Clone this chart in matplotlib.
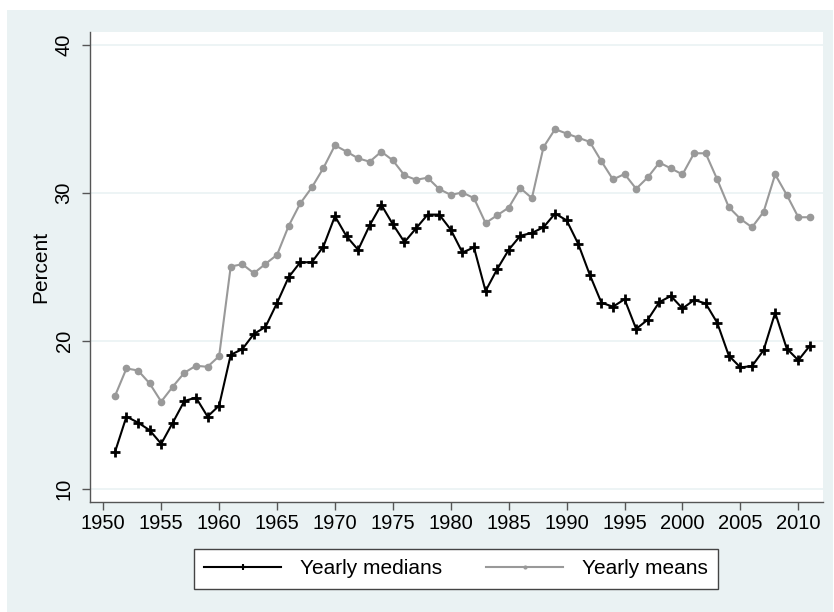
import numpy as np
import matplotlib
matplotlib.use('Agg')
import matplotlib.pyplot as plt
from matplotlib.patches import Rectangle
from matplotlib.lines import Line2D

plt.rcParams['font.family'] = ['Liberation Sans Narrow', 'Liberation Sans', 'DejaVu Sans']

years = np.arange(1951, 2012)

medians = [12.47, 14.89, 14.48, 13.97, 13.05, 14.48, 15.94, 16.17, 14.89, 15.63,
           19.06, 19.44, 20.47, 20.94, 22.56, 24.30, 25.31, 25.31, 26.37, 28.42,
           27.06, 26.15, 27.81, 29.19, 27.87, 26.67, 27.60, 28.53, 28.53, 27.51,
           25.97, 26.31, 23.37, 24.84, 26.15, 27.10, 27.29, 27.67, 28.60, 28.14,
           26.55, 24.46, 22.58, 22.31, 22.81, 20.81, 21.43, 22.62, 23.03, 22.19,
           22.76, 22.53, 21.22, 19.00, 18.21, 18.30, 19.37, 21.90, 19.48, 18.69,
           19.68]

means = [16.26, 18.14, 18.00, 17.13, 15.90, 16.91, 17.85, 18.32, 18.25, 18.97,
         25.02, 25.18, 24.57, 25.20, 25.81, 27.76, 29.28, 30.36, 31.67, 33.21,
         32.78, 32.33, 32.10, 32.78, 32.19, 31.18, 30.88, 31.02, 30.25, 29.86,
         30.02, 29.64, 27.96, 28.48, 29.00, 30.32, 29.64, 33.08, 34.30, 34.00,
         33.72, 33.44, 32.13, 30.90, 31.27, 30.27, 31.04, 32.04, 31.65, 31.24,
         32.67, 32.67, 30.90, 29.03, 28.24, 27.67, 28.71, 31.24, 29.86, 28.35,
         28.35]

xticks = np.arange(1950, 2011, 5)
yticks = [10, 20, 30, 40]

bg = '#eaf2f3'
gray = '#999999'
W, H = 834, 612

fig = plt.figure(figsize=(W / 100, H / 100), dpi=100, facecolor='white')
# Stata-like outer panel, kept behind the axes
fig.patches.append(Rectangle((7 / W, 0), 826 / W, 602 / H, transform=fig.transFigure,
                             facecolor=bg, edgecolor='none', zorder=-10))

ax = fig.add_axes([89.5 / W, 1 - 502 / H, (823 - 89.5) / W, (502 - 31.7) / H])
ax.set_facecolor('white')

ax.plot(years, medians, color='black', lw=1.5, marker='+', ms=7, mew=2, zorder=3)
ax.plot(years, means, color=gray, lw=1.5, marker='o', ms=4.5, mec=gray, mfc=gray, zorder=2)

ax.set_xlim(1948.81, 2012.13)
ax.set_ylim(9.12, 40.88)
ax.set_xticks(xticks)
ax.set_yticks(yticks)
ax.tick_params(axis='both', labelsize=14.5, length=5.5, width=1, color='#555555', direction='out')
ax.tick_params(axis='x', pad=3)
ax.tick_params(axis='y', pad=6)
for lab in ax.get_yticklabels():
    lab.set_rotation(90)
    lab.set_va('center')

ax.grid(axis='y', color=bg, lw=1.2, zorder=0)
ax.set_axisbelow(True)
for s in ['top', 'right']:
    ax.spines[s].set_visible(False)
for s in ['left', 'bottom']:
    ax.spines[s].set_color('#555555')
    ax.spines[s].set_linewidth(1)

ax.set_ylabel('Percent', fontsize=15, labelpad=3)

handles = [Line2D([], [], color='black', lw=1.5, marker='+', ms=5, mew=1.5),
           Line2D([], [], color=gray, lw=1.5, marker='o', ms=2, mec=gray, mfc=gray)]
leg = fig.legend(handles, ['Yearly medians', 'Yearly means'], loc='center',
                 bbox_to_anchor=(456 / W, 1 - 569 / H), ncol=2, fontsize=15,
                 frameon=True, fancybox=False, edgecolor='#444444',
                 facecolor='white', framealpha=1,
                 handlelength=3.7, handletextpad=0.9, columnspacing=2.1,
                 borderpad=0.5, numpoints=1)
leg.get_frame().set_linewidth(1)

fig.savefig('out.png', dpi=100, facecolor=fig.get_facecolor())
